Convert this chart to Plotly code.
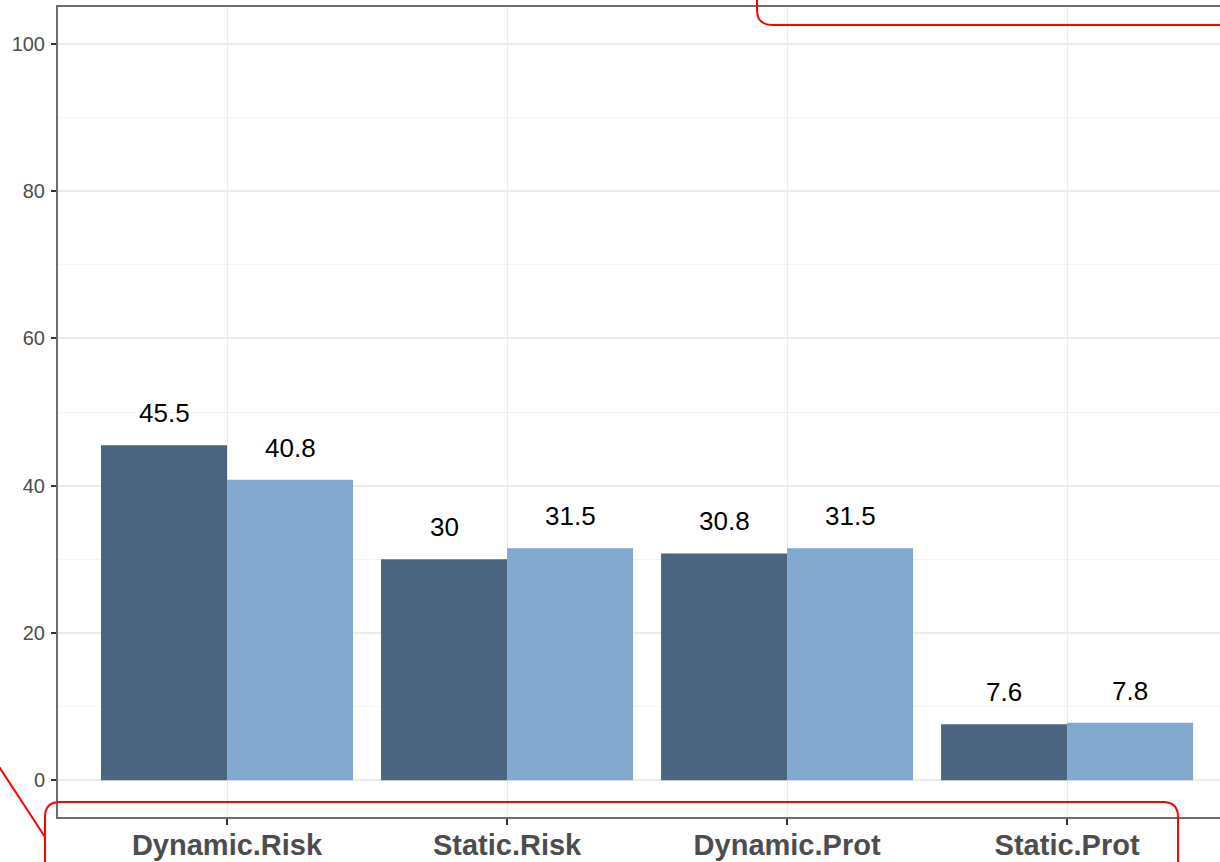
import plotly.graph_objects as go

categories = ["Dynamic.Risk", "Static.Risk", "Dynamic.Prot", "Static.Prot"]
series_a = [45.5, 30.0, 30.8, 7.6]
series_b = [40.8, 31.5, 31.5, 7.8]
labels_a = ["45.5", "30", "30.8", "7.6"]
labels_b = ["40.8", "31.5", "31.5", "7.8"]
y_ticks = [0, 20, 40, 60, 80, 100]

W, H = 1220, 862
ML, MR, MT, MB = 58, 0, 7, 45
PW, PH = W - ML - MR, H - MT - MB

def px(x):
    return (x - ML) / PW

def py(y):
    return (H - MB - y) / PH

def path(cmds):
    out = []
    for c in cmds:
        if isinstance(c, str):
            out.append(c)
        else:
            out.append(f"{px(c[0]):.5f},{py(c[1]):.5f}")
    return " ".join(out)

fig = go.Figure()
fig.add_trace(go.Bar(x=categories, y=series_a, marker=dict(color="#4B6480", line=dict(width=0)), name="A"))
fig.add_trace(go.Bar(x=categories, y=series_b, marker=dict(color="#82A8CF", line=dict(width=0)), name="B"))

for i, c in enumerate(categories):
    fig.add_annotation(x=c, y=series_a[i], text=labels_a[i], showarrow=False, xshift=-63, yshift=32,
                       font=dict(family="Liberation Sans, Arial", size=26, color="#000000"))
    fig.add_annotation(x=c, y=series_b[i], text=labels_b[i], showarrow=False, xshift=63, yshift=32,
                       font=dict(family="Liberation Sans, Arial", size=26, color="#000000"))

red = dict(color="#FF0000", width=2)
fig.add_shape(type="path", xref="paper", yref="paper", line=red,
              path=path(["M", (757, -5), "L", (757, 10), "Q", (757, 25), (772, 25), "L", (1230, 25)]))
fig.add_shape(type="path", xref="paper", yref="paper", line=red,
              path=path(["M", (45, 875), "L", (45, 817), "Q", (45, 802), (60, 802), "L", (1163, 802),
                         "Q", (1178, 802), (1178, 817), "L", (1178, 875)]))
fig.add_shape(type="path", xref="paper", yref="paper", line=red,
              path=path(["M", (-2, 765), "L", (45, 837)]))

fig.update_layout(
    width=W, height=H,
    margin=dict(l=ML, r=MR, t=MT, b=MB, pad=0),
    paper_bgcolor="white", plot_bgcolor="white",
    barmode="group", bargap=0.1, bargroupgap=0,
    showlegend=False,
    font=dict(family="Liberation Sans, Arial"),
)
fig.update_xaxes(
    range=[-0.6036, 3.546], showgrid=True, gridcolor="#EBEBEB", gridwidth=1.2,
    showline=True, linecolor="#6E6E6E", linewidth=2, mirror=True,
    ticks="outside", ticklen=6, tickcolor="#333333", tickwidth=1.5,
    tickfont=dict(family="Liberation Sans, Arial", size=29, color="#4D4D4D", weight="bold"),
    zeroline=False, ticklabelstandoff=-5,
)
fig.update_yaxes(
    range=[-5, 105], tickvals=y_ticks, showgrid=True, gridcolor="#EBEBEB", gridwidth=1.5,
    minor=dict(tickvals=[10, 30, 50, 70, 90], showgrid=True, gridcolor="#F4F4F4", gridwidth=1),
    showline=True, linecolor="#6E6E6E", linewidth=2, mirror=False,
    ticks="outside", ticklen=5, tickcolor="#333333", tickwidth=1.5,
    tickfont=dict(family="Liberation Sans, Arial", size=20, color="#4D4D4D"),
    zeroline=False, ticklabelstandoff=2,
)

fig.write_html("out.html", config={"displayModeBar": False},
               post_script="document.body.style.margin='0px';document.body.style.overflow='hidden';")
